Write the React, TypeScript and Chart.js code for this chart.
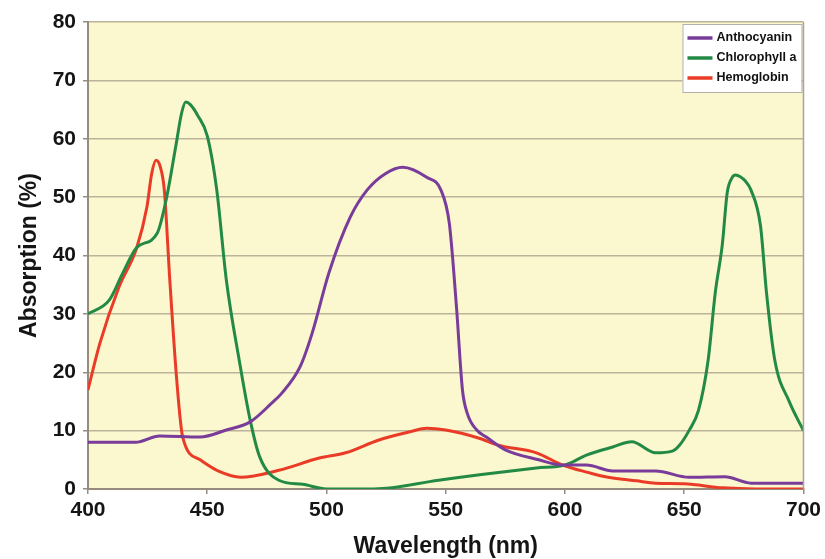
import React, { useEffect, useRef } from "react";
import { Chart, registerables } from "chart.js";

Chart.register(...registerables);

// ---- Data ----
const seriesLabels = ["Anthocyanin", "Chlorophyll a", "Hemoglobin"];

const anthocyaninX = [400, 420, 430, 447, 458, 468, 477, 481, 489, 494, 501, 510, 517, 525, 532, 542, 548, 551.5, 554.5, 557, 559, 563, 567, 575, 589, 599, 609, 620, 638, 652, 667, 678, 700];
const anthocyaninY = [8, 8, 9.1, 8.9, 10.1, 11.5, 14.7, 16.3, 21, 26.7, 37, 46.6, 51.2, 54.1, 55.1, 53.4, 51.2, 45.5, 31.2, 17, 13, 10.1, 8.9, 6.7, 5, 4.1, 4.1, 3.1, 3.1, 2, 2.1, 1, 1];

const chlorophyllX = [400, 409, 414.6, 420.5, 429, 433, 437, 439.3, 441, 443, 446, 450, 454, 458, 463.6, 468, 472, 480, 490, 500, 520, 547, 565, 588, 600, 609, 620, 628, 638, 645, 648, 652, 656, 660, 663, 666, 668, 670, 671.5, 673.5, 675.5, 678, 682, 684.5, 688, 694, 700];
const chlorophyllY = [30, 32.4, 37, 41.4, 43.8, 50, 59.2, 64.5, 66.3, 65.8, 64, 60.5, 51.2, 35.8, 21.6, 11.8, 5.5, 1.5, 0.8, 0, 0, 1.5, 2.5, 3.6, 4.1, 5.8, 7.2, 8.1, 6.2, 6.5, 7.5, 10, 13.5, 22, 33.6, 42, 50.7, 53.3, 53.8, 53.5, 52.8, 51.2, 45, 33.6, 22, 15, 10];

const hemoglobinX = [400, 405, 413, 420.5, 424.7, 426.7, 428.5, 430.3, 432, 434.3, 437.2, 439.7, 447, 455, 464, 480, 497, 508, 522, 535, 542, 550, 564, 572, 588, 599, 610, 617, 630, 638, 650, 666, 680, 700];
const hemoglobinY = [17, 25, 34.6, 41.4, 48.3, 54, 56.3, 55.2, 51.2, 35.8, 18.7, 8.9, 5, 3, 2, 3.2, 5.3, 6.2, 8.4, 9.8, 10.4, 10.1, 8.7, 7.5, 6.2, 4.1, 2.8, 2.1, 1.4, 1, 0.9, 0.2, 0, 0];

const xTicks = [400, 450, 500, 550, 600, 650, 700];
const yTicks = [0, 10, 20, 30, 40, 50, 60, 70, 80];

const colors = ["#7a3c9a", "#238a45", "#ea3b26"];

const toPoints = (xs: number[], ys: number[]) => xs.map((x, i) => ({ x, y: ys[i] }));

const FONT = "'Liberation Sans', Arial, Helvetica, sans-serif";
const GRID = "#bcb39b";
const AXIS = "#968b7e";
const BG = "#fbf7cf";

const bgPlugin = {
  id: "plotBg",
  beforeDraw(chart: any) {
    const { ctx, chartArea: a } = chart;
    ctx.save();
    ctx.fillStyle = BG;
    ctx.fillRect(a.left, a.top, a.right - a.left, a.bottom - a.top);
    ctx.restore();
  },
  afterDraw(chart: any) {
    const { ctx, chartArea: a } = chart;
    ctx.save();
    ctx.strokeStyle = "#a8a39c";
    ctx.lineWidth = 1.5;
    ctx.beginPath();
    ctx.moveTo(a.right, a.top);
    ctx.lineTo(a.right, a.bottom);
    ctx.stroke();
    // legend box
    const bx = a.right - 121;
    const by = a.top + 2;
    const bw = 119;
    const bh = 68;
    ctx.fillStyle = "#ffffff";
    ctx.fillRect(bx, by, bw, bh);
    ctx.strokeStyle = "#b3b0aa";
    ctx.lineWidth = 1;
    ctx.strokeRect(bx + 0.5, by + 0.5, bw, bh);
    ctx.font = `bold 12.5px ${FONT}`;
    ctx.textBaseline = "middle";
    ctx.textAlign = "left";
    chart.data.datasets.forEach((ds: any, i: number) => {
      const y = by + 14 + i * 20;
      ctx.strokeStyle = ds.borderColor;
      ctx.lineWidth = 3.5;
      ctx.beginPath();
      ctx.moveTo(bx + 5, y);
      ctx.lineTo(bx + 30, y);
      ctx.stroke();
      ctx.fillStyle = "#111";
      ctx.fillText(ds.label, bx + 34, y);
    });
    ctx.restore();
  },
};

export default function App() {
  const ref = useRef<HTMLCanvasElement | null>(null);

  useEffect(() => {
    if (!ref.current) return;
    const seriesX = [anthocyaninX, chlorophyllX, hemoglobinX];
    const seriesY = [anthocyaninY, chlorophyllY, hemoglobinY];
    const chart = new Chart(ref.current, {
      type: "line",
      data: {
        datasets: seriesLabels.map((label, i) => ({
          label,
          data: toPoints(seriesX[i], seriesY[i]),
          borderColor: colors[i],
          backgroundColor: colors[i],
          borderWidth: 3,
          pointRadius: 0,
          cubicInterpolationMode: "monotone" as const,
          fill: false,
        })),
      },
      options: {
        animation: false,
        responsive: false,
        maintainAspectRatio: false,
        layout: { padding: { top: 22, right: 20, left: 0, bottom: 0 } },
        plugins: { legend: { display: false }, tooltip: { enabled: false } },
        scales: {
          x: {
            type: "linear",
            min: 400,
            max: 700,
            afterBuildTicks: (s: any) => {
              s.ticks = xTicks.map((v) => ({ value: v }));
            },
            afterFit: (s: any) => {
              s.height = 70;
            },
            ticks: {
              font: { family: FONT, size: 21, weight: "bold" },
              color: "#151515",
              padding: 4,
              maxRotation: 0,
            },
            grid: { drawOnChartArea: false, drawTicks: true, tickLength: 5, color: AXIS, lineWidth: 1.5 },
            border: { color: AXIS, width: 2 },
            title: {
              display: true,
              text: "Wavelength (nm)",
              font: { family: FONT, size: 23, weight: "bold" },
              color: "#151515",
              padding: { top: 0, bottom: -1 },
            },
          },
          y: {
            min: 0,
            max: 80,
            afterBuildTicks: (s: any) => {
              s.ticks = yTicks.map((v) => ({ value: v }));
            },
            afterFit: (s: any) => {
              s.width = 88;
            },
            ticks: {
              font: { family: FONT, size: 21, weight: "bold" },
              color: "#151515",
              padding: 7,
            },
            grid: { color: GRID, lineWidth: 1.5, tickLength: 5, tickColor: AXIS },
            border: { color: AXIS, width: 2 },
            title: {
              display: true,
              text: "Absorption (%)",
              font: { family: FONT, size: 23, weight: "bold" },
              color: "#151515",
              padding: { top: 16, bottom: 0 },
            },
          },
        },
      },
      plugins: [bgPlugin],
    });
    return () => chart.destroy();
  }, []);

  return (
    <canvas
      ref={ref}
      width={825}
      height={559}
      style={{ position: "absolute", left: 0, top: 0, display: "block", width: 825, height: 559 }}
    />
  );
}
